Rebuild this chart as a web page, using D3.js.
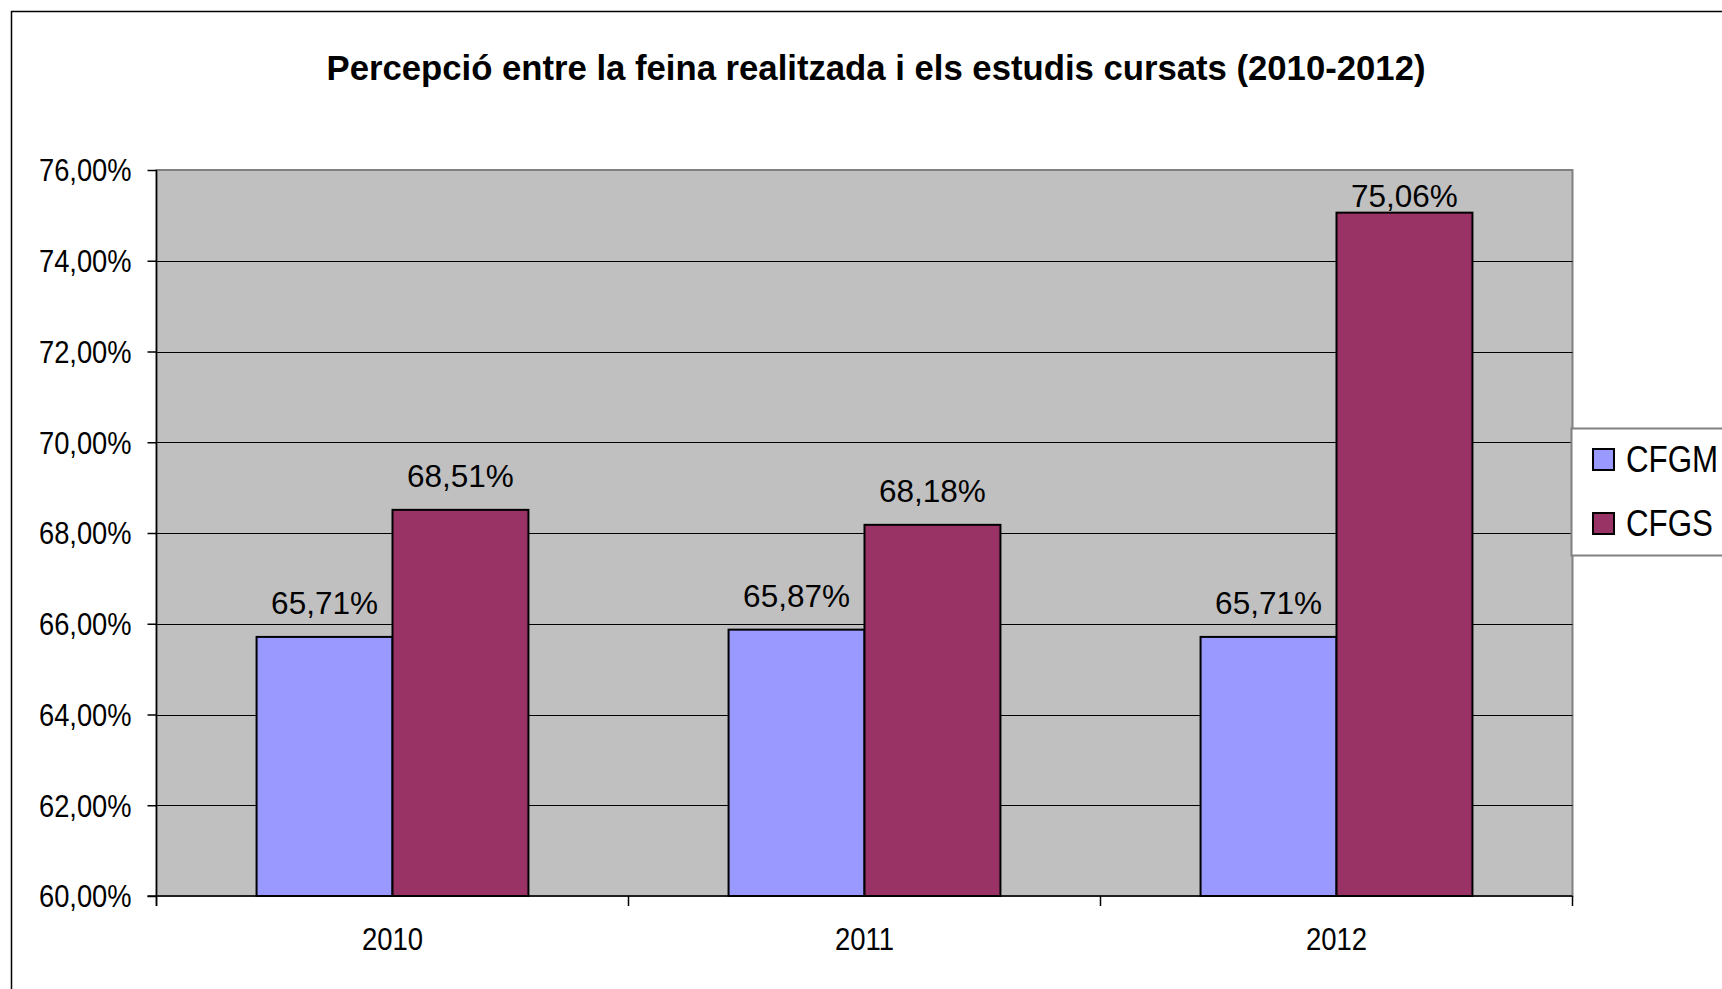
<!DOCTYPE html>
<html>
<head>
<meta charset="utf-8">
<title>Percepció entre la feina realitzada i els estudis cursats</title>
<script src="https://d3js.org/d3.v7.min.js"></script>
<style>
  body { margin: 0; background: #fff; }
  text { font-family: "Liberation Sans", Arial, sans-serif; fill: #000; }
</style>
</head>
<body>
<script>
// data
const years = ["2010", "2011", "2012"];
const seriesNames = ["CFGM", "CFGS"];
const cfgm = [65.71, 65.87, 65.71];
const cfgs = [68.51, 68.18, 75.06];
const yTicks = [60, 62, 64, 66, 68, 70, 72, 74, 76];
const colors = ["#9999FF", "#993366"];
const title = "Percepció entre la feina realitzada i els estudis cursats (2010-2012)";

const W = 1722, H = 989;
const plot = {left: 156.5, right: 1572.5, top: 170, bottom: 896};

const fmt = v => v.toFixed(2).replace(".", ",") + "%";

const svg = d3.select("body").append("svg")
    .attr("width", W).attr("height", H);

// outer chart frame (cut by the picture edge on right / bottom)
svg.append("rect")
    .attr("x", 11.5).attr("y", 11.5)
    .attr("width", 1900).attr("height", 1200)
    .attr("fill", "#fff").attr("stroke", "#000").attr("stroke-width", 1.5);

// title
svg.append("text")
    .attr("x", 876).attr("y", 79.5)
    .attr("text-anchor", "middle")
    .attr("font-weight", "bold")
    .attr("font-size", 34.7)
    .text(title);

const x = d3.scaleBand().domain(years).range([plot.left, plot.right]).padding(0);
const bw = x.bandwidth();
const xs = d3.scaleBand().domain(seriesNames).range([bw * 0.212, bw * 0.788]).padding(0);
const y = d3.scaleLinear().domain([60, 76]).range([plot.bottom, plot.top]);

// plot area
svg.append("rect")
    .attr("x", plot.left).attr("y", plot.top)
    .attr("width", plot.right - plot.left).attr("height", plot.bottom - plot.top)
    .attr("fill", "#C0C0C0").attr("stroke", "#808080").attr("stroke-width", 2);

// gridlines
svg.append("g").selectAll("line")
    .data(yTicks.filter(t => t > 60 && t < 76))
    .join("line")
    .attr("x1", plot.left).attr("x2", plot.right)
    .attr("y1", d => Math.round(y(d)) + 0.5).attr("y2", d => Math.round(y(d)) + 0.5)
    .attr("stroke", "#000").attr("stroke-width", 1);

// bars + value labels
const series = [cfgm, cfgs];
series.forEach((vals, si) => {
    const g = svg.append("g");
    g.selectAll("rect")
        .data(vals)
        .join("rect")
        .attr("x", (d, i) => x(years[i]) + xs(seriesNames[si]))
        .attr("y", d => y(d))
        .attr("width", xs.bandwidth())
        .attr("height", d => y(60) - y(d))
        .attr("fill", colors[si])
        .attr("stroke", "#000").attr("stroke-width", 2);
    g.selectAll("text")
        .data(vals)
        .join("text")
        .attr("x", (d, i) => x(years[i]) + xs(seriesNames[si]) + xs.bandwidth() / 2)
        .attr("y", d => Math.max(y(d) - 23, y(76) + 37))  // label kept inside plot area
        .attr("text-anchor", "middle")
        .attr("font-size", 31.5)
        .text(d => fmt(d));
});

// y axis
const yAxis = svg.append("g")
    .attr("transform", `translate(${plot.left},0)`)
    .call(d3.axisLeft(y).tickValues(yTicks).tickSize(9).tickPadding(16).tickFormat(fmt));
yAxis.select(".domain").attr("stroke", "#000").attr("stroke-width", 1.5)
    .attr("d", `M0,${plot.top}V${plot.bottom + 10}`);
yAxis.selectAll(".tick line").attr("stroke", "#000").attr("stroke-width", 1.5);
yAxis.selectAll(".tick text")
    .attr("font-family", null).attr("font-size", 27.3)
    .attr("dy", "0.34em")
    .attr("transform", "scale(1,1.16)");

// x axis
const xAxis = svg.append("g")
    .attr("transform", `translate(0,${plot.bottom})`)
    .call(d3.axisBottom(x).tickSize(0).tickPadding(0));
xAxis.select(".domain").attr("stroke", "#000").attr("stroke-width", 1.5)
    .attr("d", `M${plot.left - 9},0H${plot.right}`);
xAxis.selectAll(".tick text")
    .attr("font-family", null).attr("font-size", 27.5)
    .attr("dy", null).attr("y", 0)
    .attr("transform", "translate(0,54) scale(1,1.13)");
// tick marks between categories
xAxis.append("g").selectAll("line")
    .data(years.map(d => x(d)).concat([plot.right]))
    .join("line")
    .attr("x1", d => d).attr("x2", d => d)
    .attr("y1", 0).attr("y2", 10)
    .attr("stroke", "#000").attr("stroke-width", 1.5);

// legend
const lg = svg.append("g");
lg.append("rect")
    .attr("x", 1571.5).attr("y", 428.5)
    .attr("width", 300).attr("height", 127)
    .attr("fill", "#fff").attr("stroke", "#808080").attr("stroke-width", 2);
seriesNames.forEach((name, i) => {
    const yy = 449 + i * 64;
    lg.append("rect")
        .attr("x", 1593).attr("y", yy)
        .attr("width", 21).attr("height", 21)
        .attr("fill", colors[i]).attr("stroke", "#000").attr("stroke-width", 2);
    lg.append("text")
        .attr("transform", `translate(1626,${yy + 23}) scale(1,1.16)`)
        .attr("font-size", 31.3)
        .text(name);
});
</script>
</body>
</html>
